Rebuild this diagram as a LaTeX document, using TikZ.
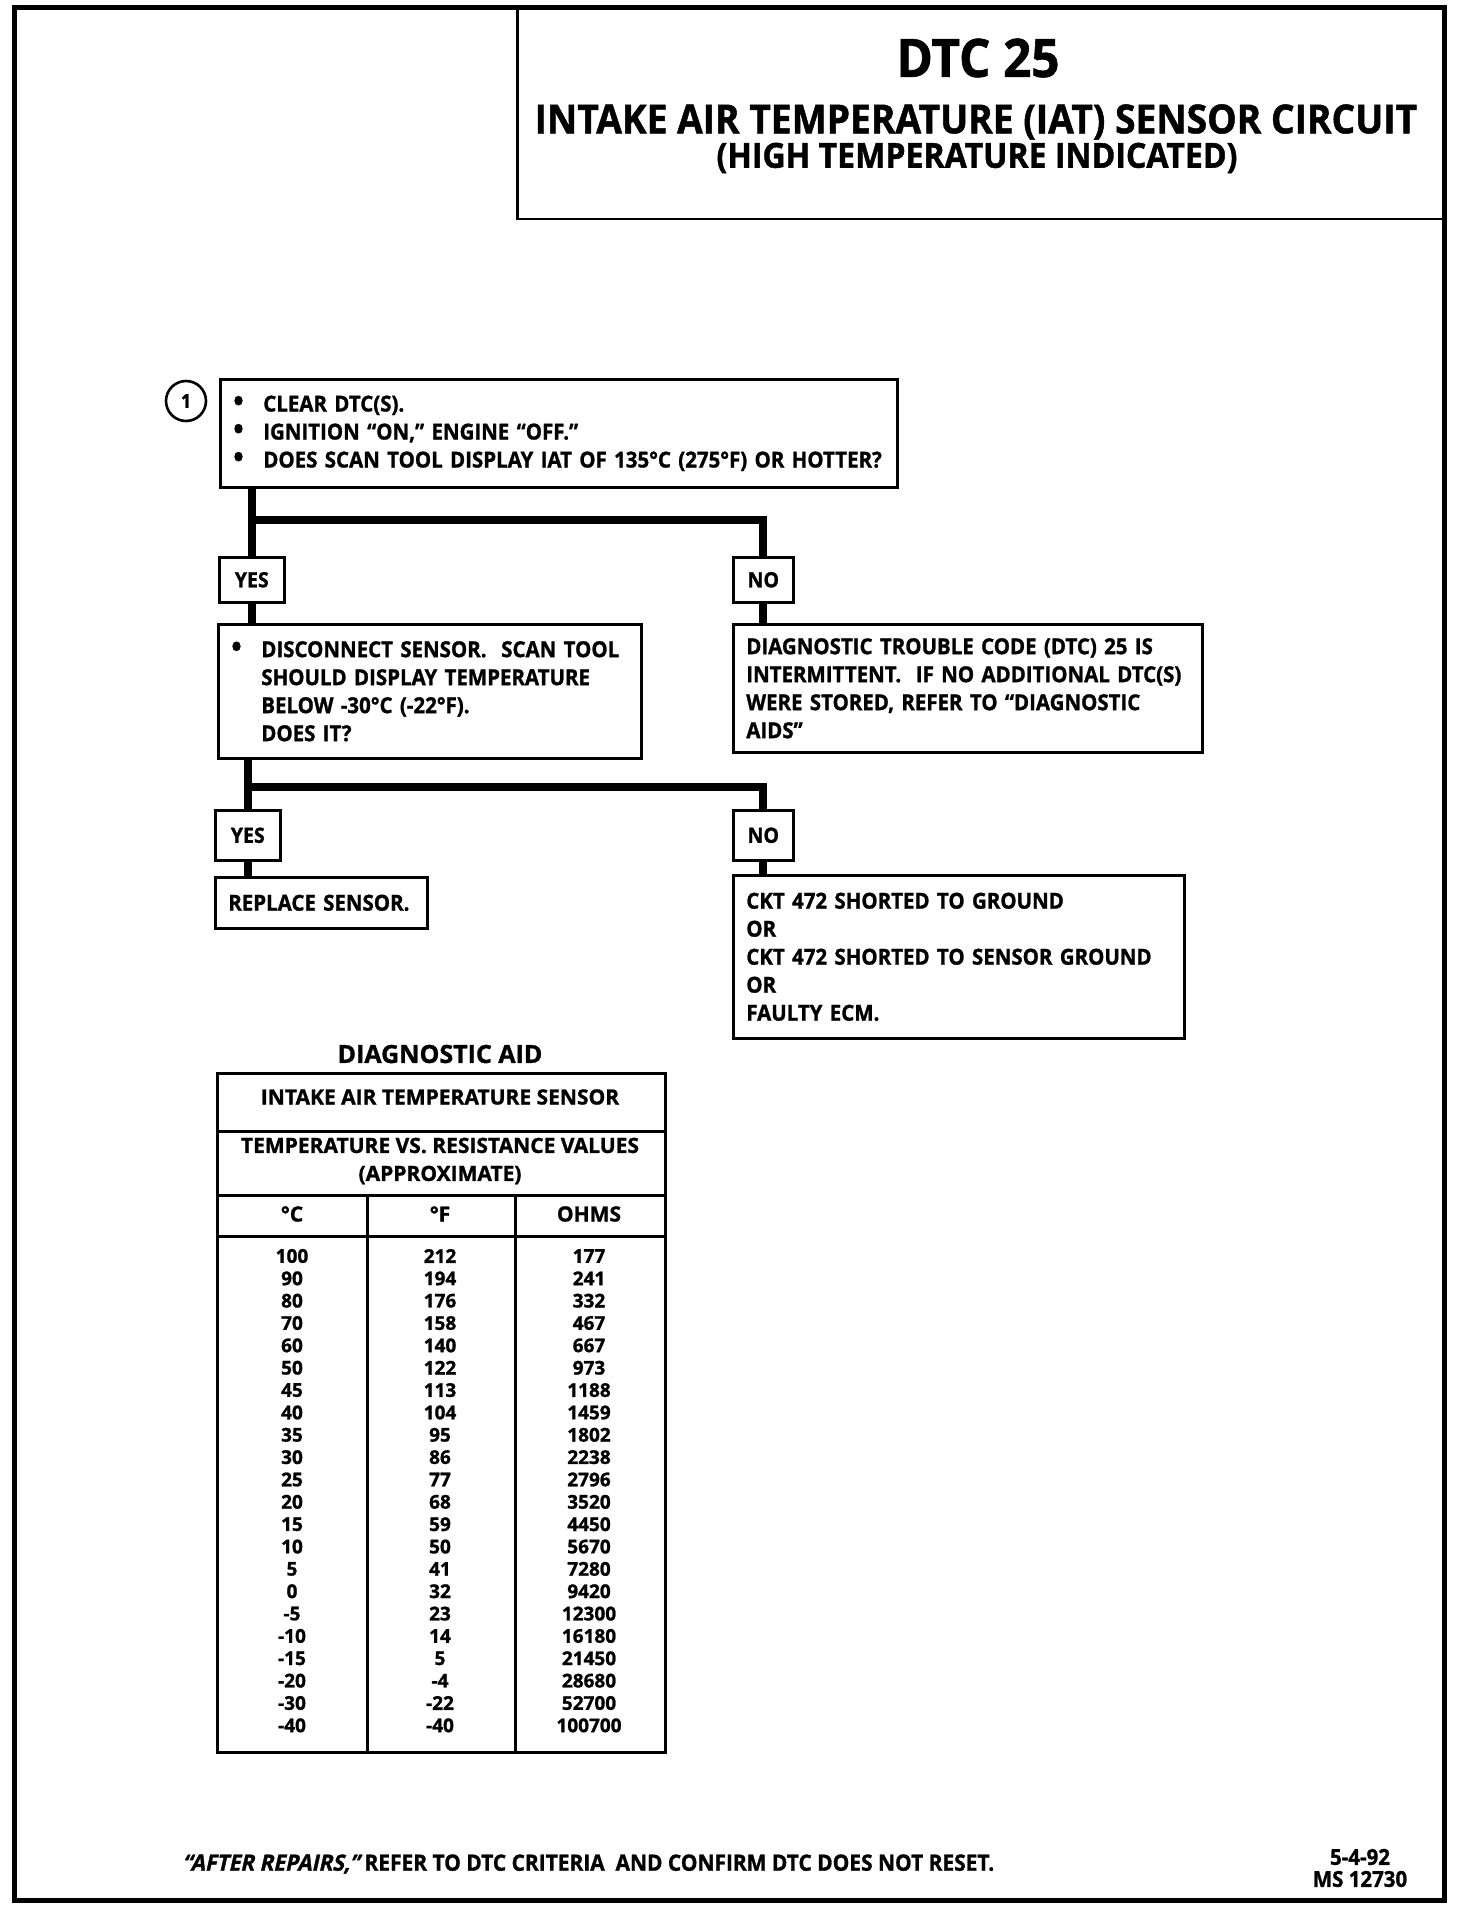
\documentclass[tikz,border=0pt]{standalone}
\usepackage{fontspec}
\setmainfont{Open Sans}[FakeStretch=0.93,BoldFeatures={FakeBold=1.2}]
\newfontfamily\tabfont{Open Sans}[BoldFeatures={FakeBold=1.2}]
\newfontfamily\slfont{Open Sans}[FakeStretch=0.93,FakeSlant=0.22,
  BoldFeatures={FakeBold=1.4,FakeSlant=0.22}]
\usetikzlibrary{calc}
\newcommand\blt{\makebox[30pt][l]{\scalebox{1.35}{\textbullet}}}

\begin{document}
\begin{tikzpicture}[x=1pt,y=-1pt,
  box/.style={draw,line width=2.6pt,anchor=north west,align=left,
    inner xsep=13pt,inner ysep=0pt,font=\bfseries\fontsize{22}{28}\selectfont},
  tag/.style={draw,line width=2.6pt,anchor=north west,inner sep=0pt,
    font=\bfseries\fontsize{21}{24}\selectfont},
  flow/.style={line width=8pt},
  rule/.style={line width=3pt},
  cell/.style={inner sep=0pt,font=\tabfont\bfseries\fontsize{19}{22.3}\selectfont},
  hcell/.style={inner sep=0pt,font=\tabfont\bfseries\fontsize{21}{28}\selectfont}]
  \useasboundingbox (0,0) rectangle (1472,1910);
  \draw[line width=5pt] (14,8) rectangle (1444,1900);
  % title block
  \node[draw,line width=2.5pt,anchor=north west,minimum width=927pt,
    minimum height=210pt,inner sep=0pt] (head) at (516,8) {};
  \node[font=\bfseries\fontsize{53}{60}\selectfont] (dtc) at (978,58) {DTC 25};
  \node[font=\bfseries\fontsize{40}{44}\selectfont] (ttl) at (976,122)
    {INTAKE AIR TEMPERATURE (IAT) SENSOR CIRCUIT};
  \node[font=\bfseries\fontsize{34.5}{36}\selectfont] (sub) at (977,158)
    {(HIGH TEMPERATURE INDICATED)};

  % chart
  \node[draw,circle,line width=2.6pt,minimum size=40pt,inner sep=0pt,
    font=\bfseries\fontsize{19}{20}\selectfont] (step1) at (186,401) {1};
  \node[box,text width=651pt,minimum height=108pt] (q1) at (219,378)
    {\blt CLEAR DTC(S).\\
     \blt IGNITION “ON,” ENGINE “OFF.”\\
     \blt DOES SCAN TOOL DISPLAY IAT OF 135°C (275°F) OR HOTTER?};
  \node[tag,minimum width=65pt,minimum height=45pt] (yes1) at (218,556) {YES};
  \node[tag,minimum width=60pt,minimum height=45pt] (no1) at (732,556) {NO};
  \node[box,text width=397pt,minimum height=134pt] (q2) at (217,623)
    {\blt DISCONNECT SENSOR.\ \ SCAN TOOL\\
     \hspace*{30pt}SHOULD DISPLAY TEMPERATURE\\
     \hspace*{30pt}BELOW -30°C (-22°F).\\
     \hspace*{30pt}DOES IT?};
  \node[box,text width=443pt,minimum height=128pt] (aids) at (732,623)
    {DIAGNOSTIC TROUBLE CODE (DTC) 25 IS\\
     INTERMITTENT.\ \ IF NO ADDITIONAL DTC(S)\\
     WERE STORED, REFER TO “DIAGNOSTIC\\
     AIDS”};
  \node[tag,minimum width=65pt,minimum height=50pt] (yes2) at (214,809) {YES};
  \node[tag,minimum width=60pt,minimum height=50pt] (no2) at (732,809) {NO};
  \node[box,text width=186pt,minimum height=51pt] (repl) at (214,876)
    {REPLACE SENSOR.};
  \node[box,text width=425pt,minimum height=163pt] (ckt) at (732,874)
    {CKT 472 SHORTED TO GROUND\\
     OR\\
     CKT 472 SHORTED TO SENSOR GROUND\\
     OR\\
     FAULTY ECM.};

  \coordinate (fork1) at (0,520);
  \coordinate (fork2) at (0,787);
  \draw[flow] (q1.south -| yes1.north) -- (yes1.north);
  \draw[flow] (yes1.north |- fork1) -| (no1.north);
  \draw[flow] (yes1.south) -- (yes1.south |- q2.north);
  \draw[flow] (no1.south) -- (no1.south |- aids.north);
  \draw[flow] (q2.south -| yes2.north) -- (yes2.north);
  \draw[flow] (yes2.north |- fork2) -| (no2.north);
  \draw[flow] (yes2.south) -- (yes2.south |- repl.north);
  \draw[flow] (no2.south) -- (no2.south |- ckt.north);

  % diagnostic aid table
  \node[font=\tabfont\bfseries\fontsize{25}{28}\selectfont] (aidttl) at (440,1054)
    {DIAGNOSTIC AID};
  \node[draw,rule,anchor=north west,minimum width=448pt,minimum height=679pt,
    inner sep=0pt] (tab) at (216,1072) {};
  \draw[rule] (216,1131) -- (664,1131);
  \draw[rule] (216,1195) -- (664,1195);
  \draw[rule] (216,1236) -- (664,1236);
  \draw[rule] (367,1195) -- (367,1751);
  \draw[rule] (515,1195) -- (515,1751);
  \node[hcell] (hsens) at (440,1097) {INTAKE AIR TEMPERATURE SENSOR};
  \node[hcell,align=center] (hvals) at (440,1161)
    {TEMPERATURE VS. RESISTANCE VALUES\\(APPROXIMATE)};
  \node[hcell] (hc) at (292,1214) {°C};
  \node[hcell] (hf) at (440,1214) {°F};
  \node[hcell] (ho) at (589,1214) {OHMS};
  \foreach \tC/\tF/\tR [count=\r from 0] in {100/212/177,90/194/241,80/176/332,
      70/158/467,60/140/667,50/122/973,45/113/1188,40/104/1459,35/95/1802,
      30/86/2238,25/77/2796,20/68/3520,15/59/4450,10/50/5670,5/41/7280,
      0/32/9420,-5/23/12300,-10/14/16180,-15/5/21450,-20/-4/28680,
      -30/-22/52700,-40/-40/100700} {
    \node[cell] (c\r) at (292,{1256+22.35*\r}) {\tC};
    \node[cell] (f\r) at (440,{1256+22.35*\r}) {\tF};
    \node[cell] (o\r) at (589,{1256+22.35*\r}) {\tR};
  }

  % footer
  \node[anchor=west,font=\bfseries\fontsize{22.5}{24}\selectfont] (foot) at (179,1864)
    {{\slfont“AFTER REPAIRS,”} REFER TO DTC CRITERIA\ \ AND CONFIRM DTC DOES NOT RESET.};
  \node[align=center,font=\bfseries\fontsize{22}{22}\selectfont] (stamp) at (1360,1868)
    {5-4-92\\MS 12730};
\end{tikzpicture}
\end{document}
